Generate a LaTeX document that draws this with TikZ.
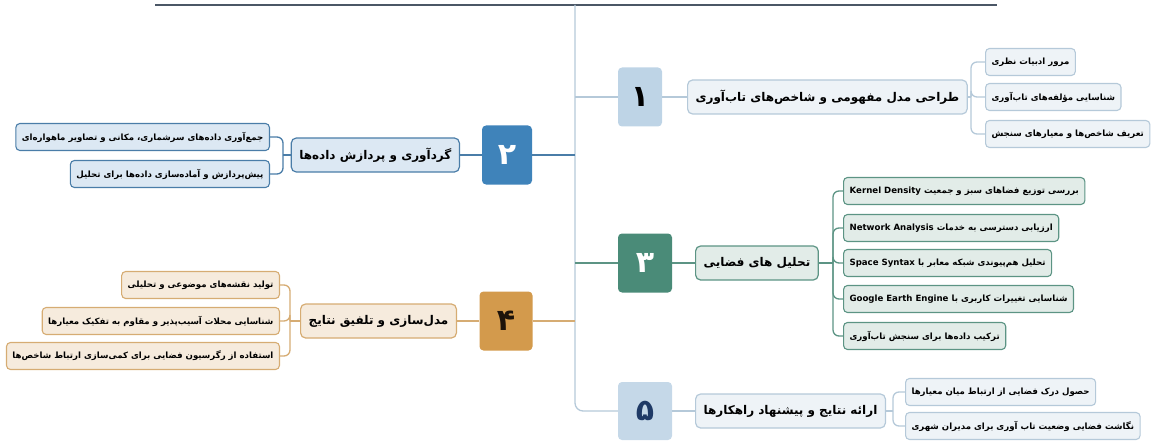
\documentclass[tikz,border=0pt]{standalone}
\usepackage{fontspec}
\newfontfamily\fafont[Script=Arabic]{DejaVu Sans}
\TeXXeTstate=1
\usetikzlibrary{positioning}

\definecolor{paleblue}{HTML}{BED4E6}
\definecolor{palefill}{HTML}{EEF3F7}
\definecolor{paleline}{HTML}{B5C9D9}
\definecolor{midblue}{HTML}{3F83BA}
\definecolor{bluefill}{HTML}{DCE8F3}
\definecolor{blueline}{HTML}{4A7DA8}
\definecolor{teal}{HTML}{4A8B78}
\definecolor{tealfill}{HTML}{E2ECE8}
\definecolor{tealline}{HTML}{5C9484}
\definecolor{ochre}{HTML}{D39A4C}
\definecolor{ochrefill}{HTML}{F6EBDD}
\definecolor{ochreline}{HTML}{D6AC73}
\definecolor{navy}{HTML}{1F3A66}
\definecolor{slate}{HTML}{4B5766}

\newcommand{\fa}[1]{{\fafont\bfseries\beginR #1\endR}}
\newcommand{\la}[1]{\beginL #1\endL{}}

\begin{document}
\begin{tikzpicture}[x=1pt,y=-1pt,
  num/.style={rounded corners=4pt, minimum width=50pt, minimum height=59pt, inner sep=0pt,
    font=\fontsize{30}{30}\selectfont},
  title/.style={draw, rounded corners=5pt, line width=1.2pt, inner xsep=8pt, minimum height=34pt,
    font=\fontsize{12}{14}\selectfont},
  leaf/.style={draw, rounded corners=4pt, line width=1.1pt, inner xsep=6pt, minimum height=27pt,
    font=\fontsize{8.6}{10}\selectfont},
  link/.style={line width=1.3pt},
  fork/.style={link, rounded corners=6pt}]
\useasboundingbox (0,0) rectangle (1161,441);

% spine
\coordinate (tl) at (155,5);
\coordinate (tr) at (997,5);
\coordinate (root) at (575,5);

% step 1
\node[num, fill=paleblue, minimum width=44pt] (n1) at (640,97) {\fa{۱}};
\node[title, fill=palefill, draw=paleline, anchor=west] (t1) at (687,97)
  {\fa{طراحی مدل مفهومی و شاخص‌های تاب‌آوری}};
\node[leaf, fill=palefill, draw=paleline, anchor=west] (l11) at (985,62) {\fa{مرور ادبیات نظری}};
\node[leaf, fill=palefill, draw=paleline, anchor=west] (l12) at (985,97) {\fa{شناسایی مؤلفه‌های تاب‌آوری}};
\node[leaf, fill=palefill, draw=paleline, anchor=west] (l13) at (985,134) {\fa{تعریف شاخص‌ها و معیارهای سنجش}};
\coordinate (j1) at (971,97);

% step 2
\node[num, fill=midblue, text=white] (n2) at (507,155) {\fa{۲}};
\node[title, fill=bluefill, draw=blueline, anchor=east] (t2) at (460,155)
  {\fa{گردآوری و پردازش داده‌ها}};
\node[leaf, fill=bluefill, draw=blueline, anchor=east] (l21) at (270,137)
  {\fa{جمع‌آوری داده‌های سرشماری، مکانی و تصاویر ماهواره‌ای}};
\node[leaf, fill=bluefill, draw=blueline, anchor=east] (l22) at (270,174)
  {\fa{پیش‌پردازش و آماده‌سازی داده‌ها برای تحلیل}};
\coordinate (j2) at (283,155);

% step 3
\node[num, fill=teal, text=white, minimum width=54pt] (n3) at (645,263) {\fa{۳}};
\node[title, fill=tealfill, draw=tealline, anchor=west] (t3) at (695,263) {\fa{تحلیل های فضایی}};
\node[leaf, fill=tealfill, draw=tealline, anchor=west] (l31) at (843,191)
  {\fa{بررسی توزیع فضاهای سبز و جمعیت \la{Kernel Density}}};
\node[leaf, fill=tealfill, draw=tealline, anchor=west] (l32) at (843,228)
  {\fa{ارزیابی دسترسی به خدمات \la{Network Analysis}}};
\node[leaf, fill=tealfill, draw=tealline, anchor=west] (l33) at (843,263)
  {\fa{تحلیل هم‌پیوندی شبکه معابر با \la{Space Syntax}}};
\node[leaf, fill=tealfill, draw=tealline, anchor=west] (l34) at (843,299)
  {\fa{شناسایی تغییرات کاربری با \la{Google Earth Engine}}};
\node[leaf, fill=tealfill, draw=tealline, anchor=west] (l35) at (843,336)
  {\fa{ترکیب داده‌ها برای سنجش تاب‌آوری}};
\coordinate (j3) at (833,263);

% step 4
\node[num, fill=ochre, text=black!85!brown, minimum width=53pt] (n4) at (506,321) {\fa{۴}};
\node[title, fill=ochrefill, draw=ochreline, anchor=east] (t4) at (457,321)
  {\fa{مدل‌سازی و تلفیق نتایج}};
\node[leaf, fill=ochrefill, draw=ochreline, anchor=east] (l41) at (280,285)
  {\fa{تولید نقشه‌های موضوعی و تحلیلی}};
\node[leaf, fill=ochrefill, draw=ochreline, anchor=east] (l42) at (280,321)
  {\fa{شناسایی محلات آسیب‌پذیر و مقاوم به تفکیک معیارها}};
\node[leaf, fill=ochrefill, draw=ochreline, anchor=east] (l43) at (280,356)
  {\fa{استفاده از رگرسیون فضایی برای کمی‌سازی ارتباط شاخص‌ها}};
\coordinate (j4) at (290,321);

% step 5
\node[num, fill=paleblue!90!white, text=navy, minimum width=54pt, minimum height=58pt] (n5) at (645,411) {\fa{۵}};
\node[title, fill=palefill, draw=paleline, anchor=west] (t5) at (695,411)
  {\fa{ارائه نتایج و پیشنهاد راهکارها}};
\node[leaf, fill=palefill, draw=paleline, anchor=west] (l51) at (905,392)
  {\fa{حصول درک فضایی از ارتباط میان معیارها}};
\node[leaf, fill=palefill, draw=paleline, anchor=west] (l52) at (905,426)
  {\fa{نگاشت فضایی وضعیت تاب آوری برای مدیران شهری}};
\coordinate (j5) at (893,411);

% lines
\draw[line width=2.2pt, draw=slate] (tl) -- (tr);
\draw[link, draw=paleline, rounded corners=8pt] (root) |- (n5);
\draw[link, draw=paleline] (root |- n1) -- (n1) (n1) -- (t1) (t1) -- (j1);
\draw[link, draw=blueline] (root |- n2) -- (n2) (n2) -- (t2) (t2) -- (j2);
\draw[link, draw=tealline] (root |- n3) -- (n3) (n3) -- (t3) (t3) -- (j3);
\draw[link, draw=ochreline] (root |- n4) -- (n4) (n4) -- (t4) (t4) -- (j4);
\draw[link, draw=paleline] (n5) -- (t5) (t5) -- (j5);
\foreach \c in {l11,l12,l13} \draw[fork, draw=paleline] (j1) |- (\c.west);
\foreach \c in {l21,l22} \draw[fork, draw=blueline] (j2) |- (\c.east);
\foreach \c in {l31,l32,l33,l34,l35} \draw[fork, draw=tealline] (j3) |- (\c.west);
\foreach \c in {l41,l42,l43} \draw[fork, draw=ochreline] (j4) |- (\c.east);
\foreach \c in {l51,l52} \draw[fork, draw=paleline] (j5) |- (\c.west);
\end{tikzpicture}
\end{document}
